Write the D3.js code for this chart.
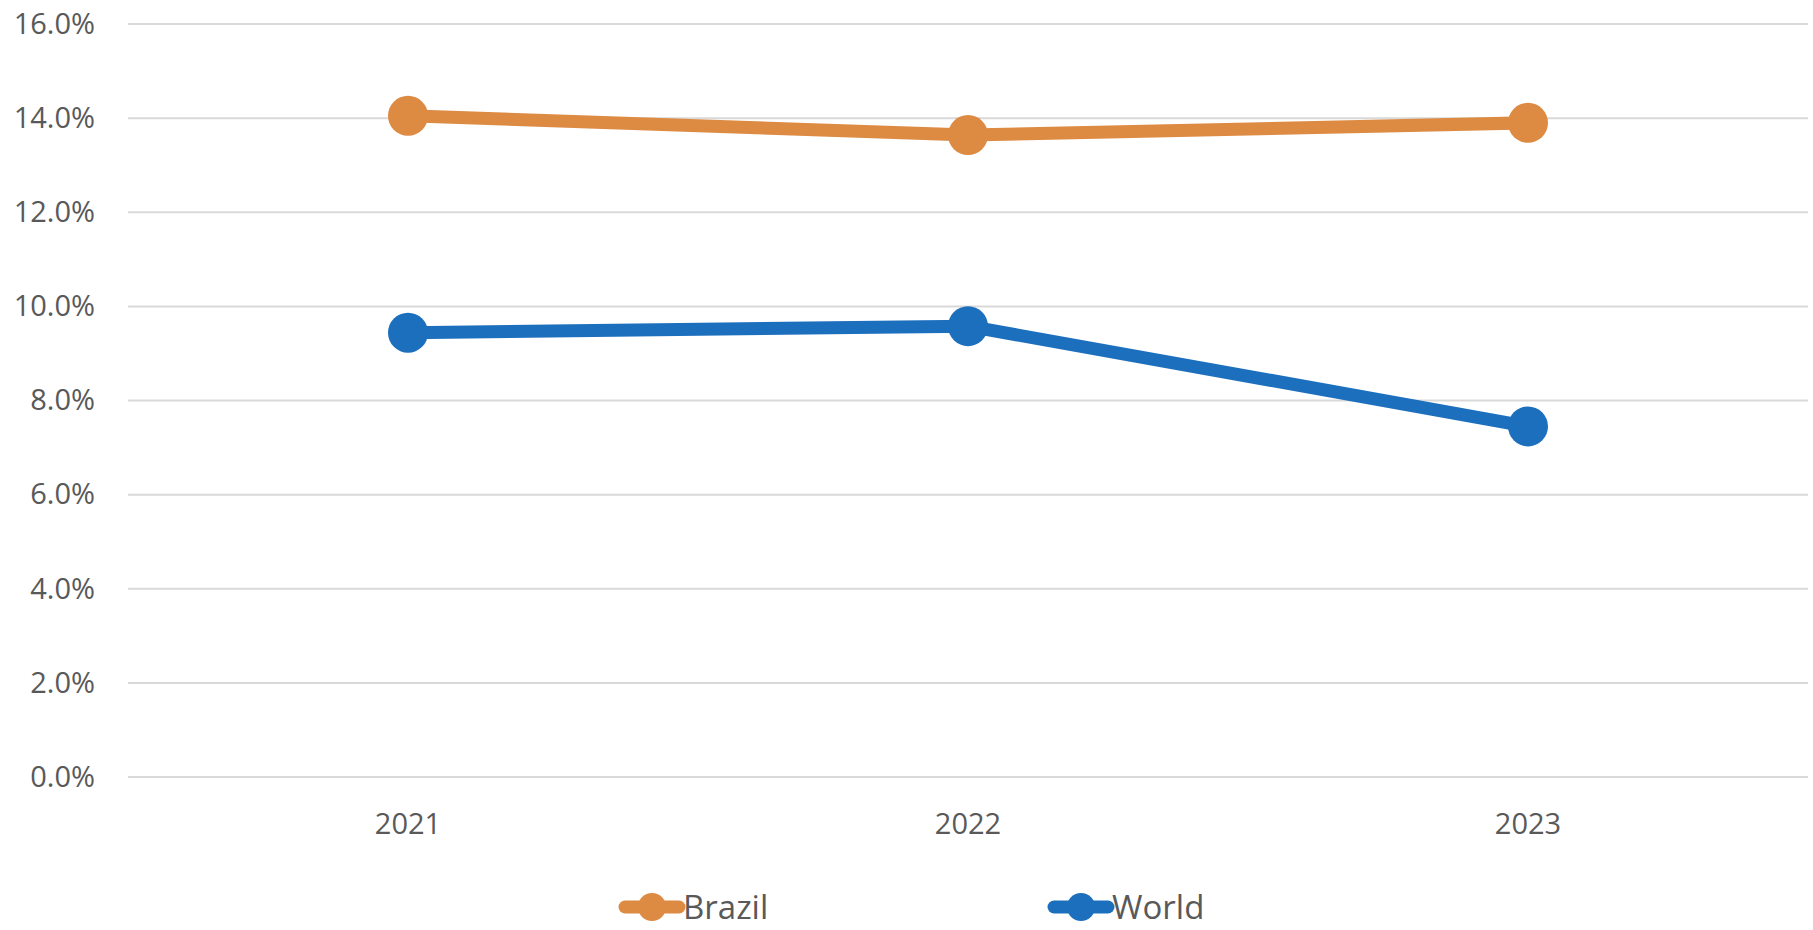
<!DOCTYPE html>
<html>
<head>
<meta charset="utf-8">
<script src="https://cdn.jsdelivr.net/npm/d3@7"></script>
<style>
  html, body { margin: 0; padding: 0; background: #ffffff; }
  svg { display: block; }
  text { font-family: "Open Sans", "Noto Sans", sans-serif; fill: #595959; }
</style>
</head>
<body>
<svg id="chart" width="1813" height="930"></svg>
<script>
// Share of total, by year
const years = ["2021", "2022", "2023"];
const brazil = [14.05, 13.64, 13.9];
const world = [9.44, 9.58, 7.45];
const yTicks = [0, 2, 4, 6, 8, 10, 12, 14, 16];
const seriesNames = ["Brazil", "World"];
const seriesColors = ["#DD8A42", "#1C6FBD"];

const series = [
  { name: seriesNames[0], values: brazil, color: seriesColors[0] },
  { name: seriesNames[1], values: world, color: seriesColors[1] }
];

const W = 1813, H = 930;
const margin = { left: 128, right: 5, top: 24, bottom: 153 };

const svg = d3.select("#chart");

const x = d3.scaleBand()
  .domain(years)
  .range([margin.left, W - margin.right]);

const y = d3.scaleLinear()
  .domain([0, 16])
  .range([H - margin.bottom, margin.top]);

// Horizontal gridlines
svg.append("g")
  .selectAll("line")
  .data(yTicks)
  .join("line")
  .attr("x1", margin.left)
  .attr("x2", W - margin.right)
  .attr("y1", d => y(d))
  .attr("y2", d => y(d))
  .attr("stroke", "#d9d9d9")
  .attr("stroke-width", 2);

// Y axis labels
const yAxis = d3.axisLeft(y)
  .tickValues(yTicks)
  .tickFormat(d => d.toFixed(1) + "%")
  .tickSize(0)
  .tickPadding(33);
const gy = svg.append("g")
  .attr("transform", `translate(${margin.left},0)`)
  .call(yAxis);
gy.select(".domain").remove();
gy.selectAll("text")
  .attr("font-size", 29)
  .attr("fill", "#595959")
  .style("font-family", "'Open Sans', sans-serif");

// X axis labels
const xAxis = d3.axisBottom(x).tickSize(0).tickPadding(36);
const gx = svg.append("g")
  .attr("transform", `translate(0,${H - margin.bottom})`)
  .call(xAxis);
gx.select(".domain").remove();
gx.selectAll("text")
  .attr("font-size", 29)
  .attr("fill", "#595959")
  .style("font-family", "'Open Sans', sans-serif");

const cx = d => x(d) + x.bandwidth() / 2;

const line = d3.line()
  .x((d, i) => cx(years[i]))
  .y(d => y(d));

const g = svg.append("g");
series.forEach(s => {
  g.append("path")
    .datum(s.values)
    .attr("d", line)
    .attr("fill", "none")
    .attr("stroke", s.color)
    .attr("stroke-width", 13)
    .attr("stroke-linejoin", "round")
    .attr("stroke-linecap", "round");
  g.selectAll(null)
    .data(s.values)
    .join("circle")
    .attr("cx", (d, i) => cx(years[i]))
    .attr("cy", d => y(d))
    .attr("r", 20)
    .attr("fill", s.color);
});

// Legend
const legendX = [621, 1050];
const legendY = 907;
const leg = svg.append("g");
series.forEach((s, i) => {
  const lg = leg.append("g").attr("transform", `translate(${legendX[i]},${legendY})`);
  lg.append("line")
    .attr("x1", 4).attr("x2", 58)
    .attr("y1", 0).attr("y2", 0)
    .attr("stroke", s.color)
    .attr("stroke-width", 13)
    .attr("stroke-linecap", "round");
  lg.append("circle")
    .attr("cx", 31).attr("cy", 0).attr("r", 14)
    .attr("fill", s.color);
  lg.append("text")
    .attr("x", 62)
    .attr("y", 0)
    .attr("dy", "0.36em")
    .attr("font-size", 33)
    .text(s.name);
});
</script>
</body>
</html>
